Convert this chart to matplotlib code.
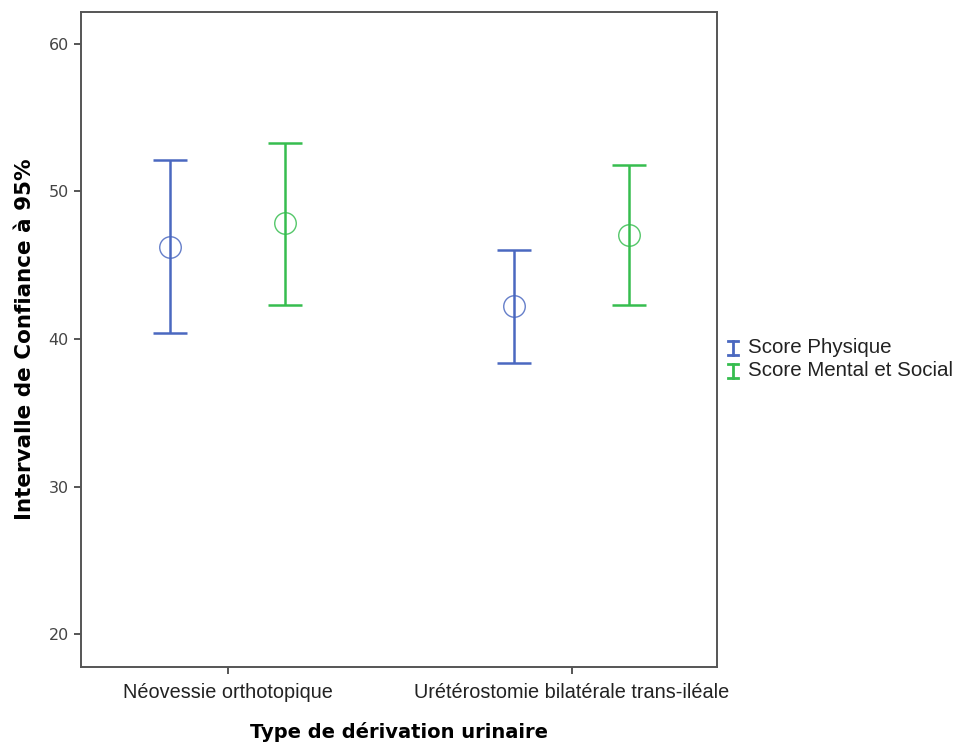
import matplotlib
matplotlib.use('Agg')
import matplotlib.pyplot as plt
from matplotlib.lines import Line2D

categories = ["Néovessie orthotopique", "Urétérostomie bilatérale trans-iléale"]
series = ["Score Physique", "Score Mental et Social"]

# mean, lower, upper of the 95% CI, per category
physique_mean = [46.25, 42.23]
physique_low = [40.38, 38.40]
physique_high = [52.10, 46.06]

mental_mean = [47.85, 47.05]
mental_low = [42.34, 42.30]
mental_high = [53.30, 51.78]

y_ticks = [20, 30, 40, 50, 60]

colors = ['#4a68c0', '#36bd4f']
offset = 0.167

fig = plt.figure(figsize=(9.57, 7.42), dpi=100)
ax = fig.add_axes([0.0843, 0.1015, 0.6647, 0.8823])

data = [(physique_mean, physique_low, physique_high),
        (mental_mean, mental_low, mental_high)]

for i, (means, lows, highs) in enumerate(data):
    xs = [c + (i * 2 - 1) * offset for c in range(len(categories))]
    yerr = [[m - l for m, l in zip(means, lows)],
            [h - m for m, h in zip(means, highs)]]
    ax.errorbar(xs, means, yerr=yerr, fmt='none', ecolor=colors[i],
                elinewidth=1.8, capsize=12.5, capthick=1.8)
    ax.plot(xs, means, 'o', ms=15.5, mfc='none', mec=colors[i], mew=1.0,
            alpha=0.85)

ax.set_xlim(-0.4273, 1.4215)
ax.set_ylim(17.81, 62.15)
ax.set_xticks(range(len(categories)))
ax.set_xticklabels(categories, fontsize=14.3, family='Liberation Sans', color='#222222')
ax.set_yticks(y_ticks)
ax.set_yticklabels([str(t) for t in y_ticks], fontsize=11.5, color='#444444')

for sp in ax.spines.values():
    sp.set_color('#555555')
    sp.set_linewidth(1.4)
ax.tick_params(axis='both', direction='out', length=5, width=1.4, color='#555555')
ax.tick_params(axis='x', pad=7)

ax.set_xlabel("Type de dérivation urinaire", fontsize=14, fontweight='bold',
              family='DejaVu Sans', labelpad=14)
ax.set_ylabel("Intervalle de Confiance à 95%", fontsize=15.5, fontweight='bold',
              family='DejaVu Sans', labelpad=10)

# legend drawn by hand, SPSS style
leg_x = 733 / 957
leg_y = [1 - 348 / 742, 1 - 371 / 742]
for i, name in enumerate(series):
    y = leg_y[i]
    h = 7 / 742
    w = 5 / 957
    fig.add_artist(Line2D([leg_x, leg_x], [y - h, y + h], color=colors[i], lw=2))
    fig.add_artist(Line2D([leg_x - w, leg_x + w], [y + h, y + h], color=colors[i], lw=2))
    fig.add_artist(Line2D([leg_x - w, leg_x + w], [y - h, y - h], color=colors[i], lw=2))
    fig.text(748 / 957, y, name, fontsize=14.8, family='Liberation Sans',
             color='#222222', va='center', ha='left')

fig.savefig('out.png', dpi=100)
